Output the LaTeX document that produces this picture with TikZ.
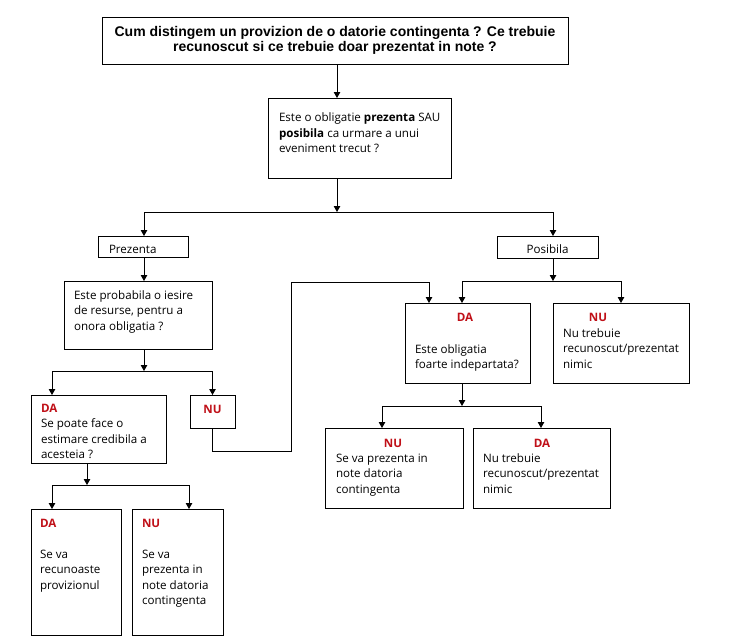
\documentclass[tikz,border=0pt]{standalone}
\usepackage{fontspec}
\setmainfont{Open Sans}
\newfontfamily\titlefont{Liberation Sans}
\usetikzlibrary{arrows.meta}
\definecolor{labred}{RGB}{192,16,24}
\newcommand{\fr}{\rule{0pt}{12pt}}
\newcommand{\lbl}[1]{{\color{labred}\bfseries #1}}
\begin{document}
\begin{tikzpicture}[x=1pt,y=-1pt,
  box/.style={draw, line width=1pt, anchor=north west, inner sep=0pt, outer sep=0pt},
  txt/.style={anchor=north west, inner sep=0pt, outer sep=0pt, align=left, font=\fontsize{11.6}{15.5}\selectfont},
  lab/.style={anchor=base, inner sep=0pt, outer sep=0pt, font=\fontsize{11.6}{15.5}\selectfont},
  arr/.style={draw, line width=1pt, -{Triangle[length=6pt,width=6.5pt]}},
  ln/.style={draw, line width=1pt}]
\useasboundingbox (0,0) rectangle (733,640);
\fill[white] (0,0) rectangle (733,640);

% title
\node[box, minimum width=466pt, minimum height=47pt, align=center,
  font=\titlefont\bfseries\fontsize{14}{15.5}\selectfont] (title) at (102,17)
  {Cum distingem un provizion de o datorie contingenta ? Ce trebuie\\recunoscut si ce trebuie doar prezentat in note ?};

% question 1
\node[box, minimum width=183pt, minimum height=80pt] (q1) at (268,98) {};
\node[txt] (q1t) at (279,109.5) {\fr Este o obligatie \textbf{prezenta} SAU\\\textbf{posibila} ca urmare a unui\\eveniment trecut ?};

% Prezenta / Posibila
\node[box, minimum width=90pt, minimum height=21pt] (prez) at (98,236) {};
\node[lab, anchor=base west] (prezt) at (109,253) {Prezenta};
\node[box, minimum width=101pt, minimum height=22pt] (pos) at (497,236) {};
\node[lab] (post) at (547.5,253) {Posibila};

% left branch
\node[box, minimum width=148pt, minimum height=68pt] (p1) at (64,281) {};
\node[txt] (p1t) at (74,287) {\fr Este probabila o iesire\\de resurse, pentru a\\onora obligatia ?};

\node[box, minimum width=135pt, minimum height=68pt] (da1) at (31,395) {};
\node[txt] (da1t) at (41,400) {\fr\lbl{DA}\\Se poate face o\\estimare credibila a\\acesteia ?};

\node[box, minimum width=45pt, minimum height=33pt] (nu1) at (190,395) {};
\node[lab] (nu1t) at (212.5,413) {\lbl{NU}};

\node[box, minimum width=90pt, minimum height=126pt] (da2) at (31,509) {};
\node[txt] (da2t) at (40,515) {\fr\lbl{DA}\\[15.5pt]Se va\\recunoaste\\provizionul};

\node[box, minimum width=91pt, minimum height=126pt] (nu2) at (132,509) {};
\node[txt] (nu2t) at (142,515) {\fr\lbl{NU}\\[15.5pt]Se va\\prezenta in\\note datoria\\contingenta};

% right branch
\node[box, minimum width=125pt, minimum height=80pt] (da3) at (405,303) {};
\node[lab] (da3l) at (465,321) {\lbl{DA}};
\node[txt] (da3t) at (415,341) {\fr Este obligatia\\foarte indepartata?};

\node[box, minimum width=136pt, minimum height=80pt] (nu3) at (553,303) {};
\node[lab] (nu3l) at (598,321) {\lbl{NU}};
\node[txt] (nu3t) at (563,325) {\fr Nu trebuie\\recunoscut/prezentat\\nimic};

\node[box, minimum width=138pt, minimum height=80pt] (nu4) at (325,428) {};
\node[lab] (nu4l) at (393,447) {\lbl{NU}};
\node[txt] (nu4t) at (336,450) {\fr Se va prezenta in\\note datoria\\contingenta};

\node[box, minimum width=137pt, minimum height=80pt] (da4) at (473,428) {};
\node[lab] (da4l) at (542,447) {\lbl{DA}};
\node[txt] (da4t) at (483,450) {\fr Nu trebuie\\recunoscut/prezentat\\nimic};

% junction coordinates
\coordinate (j0) at (337,64);
\coordinate (j1) at (337,212);
\coordinate (j1l) at (144,212);
\coordinate (j1r) at (553,212);
\coordinate (j2) at (144,371);
\coordinate (j2l) at (52,371);
\coordinate (j2r) at (212.5,371);
\coordinate (j3) at (87,485);
\coordinate (j3l) at (52,485);
\coordinate (j3r) at (189,485);
\coordinate (j4) at (553,281);
\coordinate (j4l) at (462,281);
\coordinate (j4r) at (621,281);
\coordinate (j5) at (462,406);
\coordinate (j5l) at (382,406);
\coordinate (j5r) at (541,406);
\coordinate (l1) at (291,451);
\coordinate (l2) at (291,282);
\coordinate (l3) at (429,282);

% connectors
\draw[arr] (j0 |- title.south) -- (j0 |- q1.north);
\draw[arr] (j1 |- q1.south) -- (j1);
\draw[ln] (j1l) -- (j1r);
\draw[arr] (j1l) -- (j1l |- prez.north);
\draw[arr] (j1r) -- (j1r |- pos.north);

\draw[arr] (j1l |- prez.south) -- (j1l |- p1.north);
\draw[arr] (j2 |- p1.south) -- (j2);
\draw[ln] (j2l) -- (j2r);
\draw[arr] (j2l) -- (j2l |- da1.north);
\draw[arr] (j2r) -- (nu1.north);

\draw[arr] (j3 |- da1.south) -- (j3);
\draw[ln] (j3l) -- (j3r);
\draw[arr] (j3l) -- (j3l |- da2.north);
\draw[arr] (j3r) -- (j3r |- nu2.north);

\draw[arr] (nu1.south) -- (nu1.south |- l1) -- (l1) -- (l2) -- (l3) -- (l3 |- da3.north);

\draw[arr] (j4 |- pos.south) -- (j4);
\draw[ln] (j4l) -- (j4r);
\draw[arr] (j4l) -- (j4l |- da3.north);
\draw[arr] (j4r) -- (j4r |- nu3.north);

\draw[arr] (j5 |- da3.south) -- (j5);
\draw[ln] (j5l) -- (j5r);
\draw[arr] (j5l) -- (j5l |- nu4.north);
\draw[arr] (j5r) -- (j5r |- da4.north);
\end{tikzpicture}
\end{document}
